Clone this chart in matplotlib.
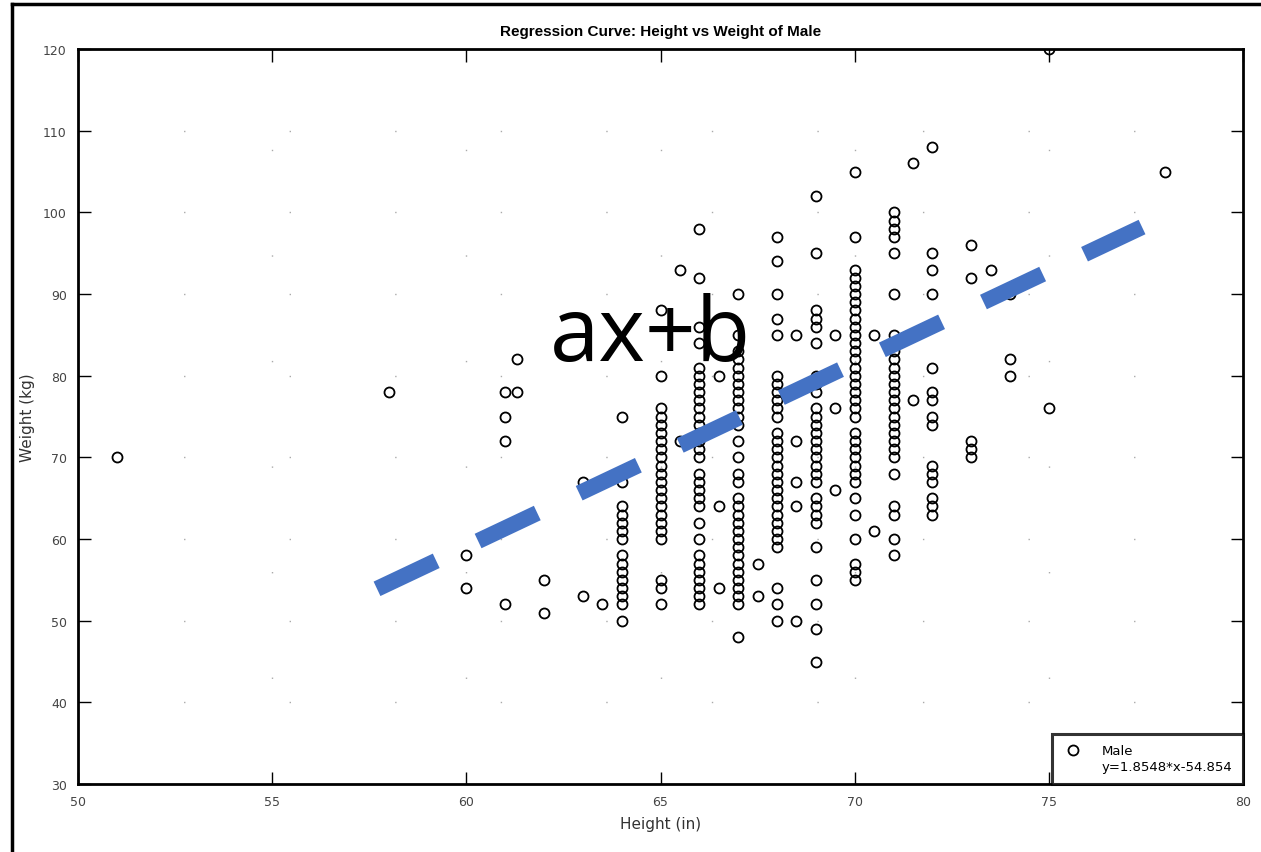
import matplotlib
matplotlib.use("Agg")
import matplotlib.pyplot as plt
from matplotlib.lines import Line2D

# ---- data (height in inches -> list of weights in kg) ----
h51 = [70]
h58 = [78]
h60 = [58, 54]
h61 = [78, 75, 72, 52]
h61_3 = [82, 78]
h62 = [55, 51]
h63 = [67, 53]
h63_5 = [52]
h64 = [75, 67, 64, 63, 62, 61, 60, 58, 57, 56, 55, 54, 53, 52, 50]
h65 = [88, 80, 76, 75, 74, 73, 72, 71, 70, 69, 68, 67, 66, 65, 64, 63, 62, 61, 60, 55, 54, 52]
h65_5 = [93, 72]
h66 = [98, 92, 86, 84, 81, 80, 79, 78, 77, 76, 75, 74, 73, 72, 71, 70, 68, 67, 66, 65,
       64, 62, 60, 58, 57, 56, 55, 54, 53, 52]
h66_5 = [80, 64, 54]
h67 = [90, 85, 83, 82, 81, 80, 79, 78, 77, 76, 75, 74, 72, 70, 68, 67, 65, 64, 63, 62,
       61, 60, 59, 58, 57, 56, 55, 54, 53, 52, 48]
h67_5 = [57, 53]
h68 = [97, 94, 90, 87, 85, 80, 79, 78, 77, 76, 75, 73, 72, 71, 70, 69, 68, 67, 66, 65,
       64, 63, 62, 61, 60, 59, 54, 52, 50]
h68_5 = [85, 72, 67, 64, 50]
h69 = [102, 95, 88, 87, 86, 84, 80, 79, 78, 76, 75, 74, 73, 72, 71, 70, 69, 68, 67, 65,
       64, 63, 62, 59, 55, 52, 49, 45]
h69_5 = [85, 76, 66]
h70 = [105, 97, 93, 92, 91, 90, 89, 88, 87, 86, 85, 84, 83, 82, 81, 80, 79, 78, 77, 76,
       75, 73, 72, 71, 70, 69, 68, 67, 65, 63, 60, 57, 56, 55]
h70_5 = [85, 61]
h71 = [100, 99, 98, 97, 95, 90, 85, 84, 83, 82, 81, 80, 79, 78, 77, 76, 75, 74, 73, 72,
       71, 70, 68, 64, 63, 60, 58]
h71_5 = [106, 77]
h72 = [108, 95, 93, 90, 86, 81, 78, 77, 75, 74, 69, 68, 67, 65, 64, 63]
h73 = [96, 92, 72, 71, 70]
h73_5 = [93]
h74 = [90, 82, 80]
h75 = [120, 76]
h78 = [105]

columns = {51: h51, 58: h58, 60: h60, 61: h61, 61.3: h61_3, 62: h62, 63: h63, 63.5: h63_5,
           64: h64, 65: h65, 65.5: h65_5, 66: h66, 66.5: h66_5, 67: h67, 67.5: h67_5,
           68: h68, 68.5: h68_5, 69: h69, 69.5: h69_5, 70: h70, 70.5: h70_5, 71: h71,
           71.5: h71_5, 72: h72, 73: h73, 73.5: h73_5, 74: h74, 75: h75, 78: h78}

# overlay dashed line (end points)
line_x = [57.7, 77.4]
line_y = [53.9, 98.2]

x_ticks = [50, 55, 60, 65, 70, 75, 80]
y_ticks = [30, 40, 50, 60, 70, 80, 90, 100, 110, 120]

title = "Regression Curve: Height vs Weight of Male"
legend_label = "Male"
equation = "y=1.8548*x-54.854"

heights = [h for h, ws in columns.items() for _ in ws]
weights = [w for ws in columns.values() for w in ws]

fig = plt.figure(figsize=(12.61, 8.53), dpi=100)
ax = fig.add_axes([78 / 1261, 1 - 785 / 853, (1243 - 78) / 1261, (785 - 50) / 853])

ax.set_xlim(50, 80)
ax.set_ylim(30, 120)
ax.set_xticks(x_ticks)
ax.set_yticks(y_ticks)
ax.tick_params(direction="in", length=9, width=1, top=True, right=True,
               labelsize=9, labelcolor="#444444", pad=8)
for sp in ax.spines.values():
    sp.set_linewidth(2)
ax.grid(True, linestyle=(0, (1, 75)), color="#aaaaaa", linewidth=1)

sc, = ax.plot(heights, weights, linestyle="none", marker="o", markersize=7.2,
              markerfacecolor="none", markeredgecolor="black", markeredgewidth=1.3,
              label=legend_label, zorder=3)

ax.plot(line_x, line_y, color="#4472C4", linewidth=11.5, dashes=(4.1, 2.9),
        solid_capstyle="butt", dash_capstyle="butt", zorder=4)

t = ax.text(0, 0, "ax+b", transform=None, fontsize=64, family="Open Sans",
            ha="center", va="center", color="black", zorder=5)
t.set_position((650, 853 - 338))

ax.set_title(title, fontsize=11, fontweight="bold", family="Liberation Sans", pad=10)
ax.set_xlabel("Height (in)", fontsize=11, color="#333333", labelpad=6)
ax.set_ylabel("Weight (kg)", fontsize=11, color="#333333", labelpad=6)

eq_handle = Line2D([], [], linestyle="none", marker=None)
leg = ax.legend([sc, eq_handle], [legend_label, equation], loc="lower right",
                fontsize=9.5, frameon=True, fancybox=False, borderaxespad=0,
                handlelength=1.6, handletextpad=1.4, borderpad=0.8, labelspacing=0.25)
leg.get_frame().set_edgecolor("black")
leg.get_frame().set_linewidth(2.2)

# outer frame of the screenshot
fig.add_artist(Line2D([12 / 1261, 12 / 1261], [0, 1 - 5 / 853], color="black",
                      linewidth=2.5, transform=fig.transFigure))
fig.add_artist(Line2D([12 / 1261, 1], [1 - 5 / 853, 1 - 5 / 853], color="black",
                      linewidth=2.5, transform=fig.transFigure))

fig.savefig("out.png", dpi=100)
